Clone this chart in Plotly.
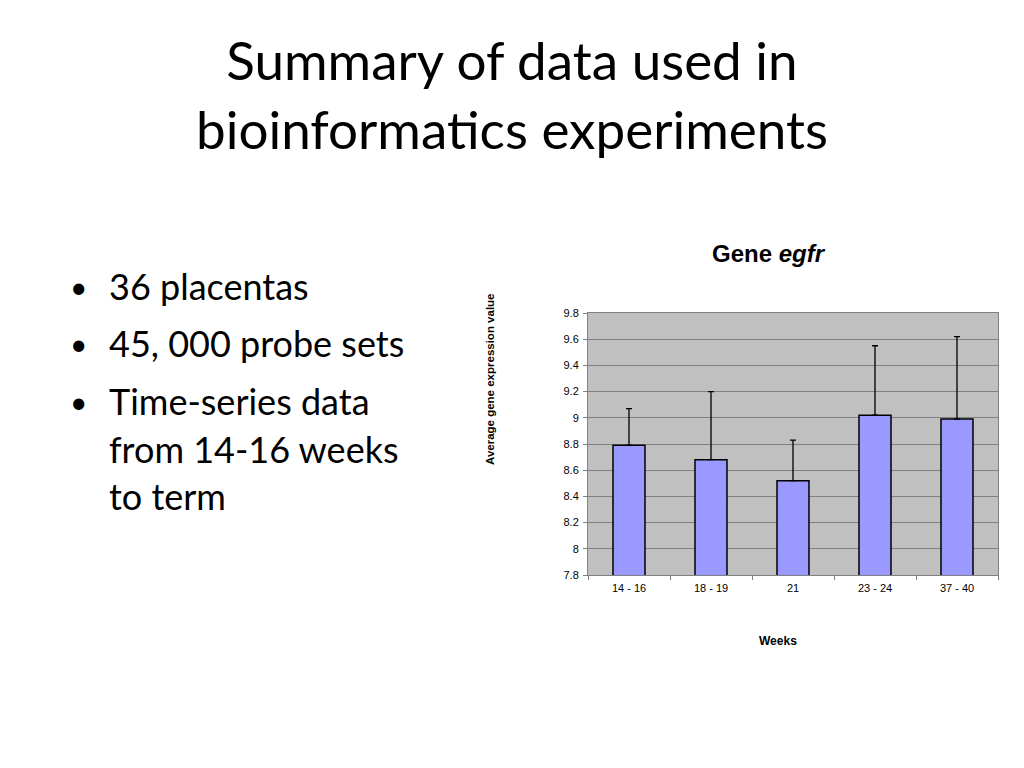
import plotly.graph_objects as go

weeks = ["14 - 16", "18 - 19", "21", "23 - 24", "37 - 40"]
mean_expr = [8.79, 8.68, 8.52, 9.02, 8.99]
err_plus = [0.28, 0.52, 0.31, 0.53, 0.63]
y_tickvals = [7.8, 8.0, 8.2, 8.4, 8.6, 8.8, 9.0, 9.2, 9.4, 9.6, 9.8]
y_ticktext = ["7.8", "8", "8.2", "8.4", "8.6", "8.8", "9", "9.2", "9.4", "9.6", "9.8"]

# page is offset by the 8px body margin
OFF = 8
W, H = 1024 - 2 * OFF, 768 - 2 * OFF
L, R, T, B = 588, 998, 313, 575  # plot area in page pixels


def px(x):
    return (x - L) / (R - L)


def py(y):
    return (B - y) / (B - T)


fig = go.Figure()
fig.add_trace(go.Bar(
    x=weeks, y=mean_expr,
    marker=dict(color="#9999FF", line=dict(color="black", width=1.5)),
    error_y=dict(type="data", symmetric=False, array=err_plus,
                 arrayminus=[0] * len(err_plus),
                 color="black", thickness=1.3, width=3),
))

fig.update_layout(
    width=W, height=H,
    margin=dict(l=L - OFF, r=W - (R - OFF), t=T - OFF, b=H - (B - OFF), pad=0),
    paper_bgcolor="white", plot_bgcolor="#C0C0C0",
    showlegend=False, bargap=0.61,
    font=dict(family="Liberation Sans, Arial", size=11, color="black"),
)
fig.update_xaxes(
    showline=True, linecolor="#808080", linewidth=1, mirror=True,
    ticks="outside", ticklen=4, tickcolor="#808080", tickson="boundaries",
    showgrid=False, tickfont=dict(size=11), ticklabelstandoff=3,
)
fig.update_yaxes(
    range=[7.8, 9.8], tickvals=y_tickvals, ticktext=y_ticktext,
    showline=True, linecolor="#808080", linewidth=1, mirror=True,
    ticks="outside", ticklen=4, tickcolor="#808080",
    showgrid=True, gridcolor="#808080", gridwidth=1,
    tickfont=dict(size=11), zeroline=False, ticklabelstandoff=2,
)

ann = []
# Slide title
ann.append(dict(text="Summary of data used in<br>bioinformatics experiments",
                x=px(512), y=py(94), xref="paper", yref="paper",
                xanchor="center", yanchor="middle", showarrow=False,
                font=dict(family="Lato, Open Sans", size=53, color="black"),
                align="center"))
# Bullets
bullet_lines = [("•", "36 placentas", 286), ("•", "45, 000 probe sets", 343),
                ("•", "Time-series data", 401), ("", "from 14-16 weeks", 449),
                ("", "to term", 496)]
for b, t, y in bullet_lines:
    if b:
        ann.append(dict(text=b, x=px(68), y=py(y), xref="paper", yref="paper",
                        xanchor="left", yanchor="middle", showarrow=False,
                        font=dict(family="Lato, Open Sans", size=30, color="black")))
    ann.append(dict(text=t, x=px(107), y=py(y), xref="paper", yref="paper",
                    xanchor="left", yanchor="middle", showarrow=False,
                    font=dict(family="Lato, Open Sans", size=36, color="black")))
# Chart title
ann.append(dict(text="<b>Gene <i>egfr</i></b>", x=px(769), y=py(253),
                xref="paper", yref="paper", xanchor="center", yanchor="middle",
                showarrow=False,
                font=dict(family="Liberation Sans, Arial", size=24, color="black")))
# Axis titles
ann.append(dict(text="<b>Average gene expression value</b>", x=px(490), y=py(379),
                xref="paper", yref="paper", xanchor="center", yanchor="middle",
                showarrow=False, textangle=-90,
                font=dict(family="Liberation Sans, Arial", size=11.5, color="black")))
ann.append(dict(text="<b>Weeks</b>", x=px(778), y=py(641),
                xref="paper", yref="paper", xanchor="center", yanchor="middle",
                showarrow=False,
                font=dict(family="Liberation Sans, Arial", size=12, color="black")))
fig.update_layout(annotations=ann)

fig.write_html("out.html")
